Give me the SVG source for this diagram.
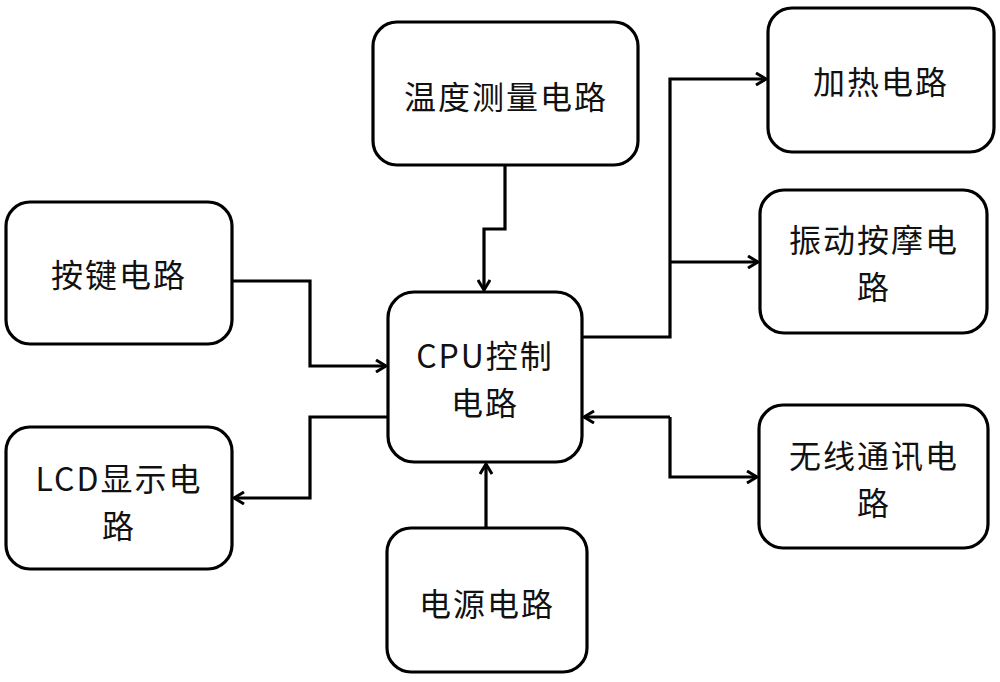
<svg xmlns="http://www.w3.org/2000/svg" width="1000" height="682" viewBox="0 0 1000 682">
<style>
.box{fill:#fff;stroke:#000;stroke-width:3.2}
.t{font-family:"Noto Sans CJK SC","Noto Sans",sans-serif;font-size:32px;letter-spacing:2px;fill:#111;text-anchor:middle;dominant-baseline:central}
.c{fill:none;stroke:#000;stroke-width:3.2;stroke-linejoin:miter}
</style>
<defs>
<marker id="a" viewBox="0 0 14 14" refX="12" refY="7" markerWidth="14" markerHeight="14" markerUnits="userSpaceOnUse" orient="auto">
<path d="M2,1 L12,7 L2,13" fill="none" stroke="#000" stroke-width="3"/>
</marker>
</defs>
<rect width="1000" height="682" fill="#fff"/>
<g id="connectors">
<polyline class="c" points="505,165 505,229 484,229 484,290" marker-end="url(#a)"/>
<polyline class="c" points="486,528 486,464" marker-end="url(#a)"/>
<polyline class="c" points="232,281 310,281 310,366 386,366" marker-end="url(#a)"/>
<polyline class="c" points="388,417 310,417 310,498 234,498" marker-end="url(#a)"/>
<polyline class="c" points="582,337 670,337 670,79 766,79" marker-end="url(#a)"/>
<polyline class="c" points="670,262 758,262" marker-end="url(#a)"/>
<polyline class="c" points="670,417 670,477 757,477" marker-end="url(#a)"/>
<polyline class="c" points="670,417 584,417" marker-end="url(#a)"/>
</g>
<g id="temp">
<rect class="box" x="373" y="22" width="265" height="143" rx="24"/>
<text class="t" x="506" y="95">温度测量电路</text>
</g>
<g id="key">
<rect class="box" x="6" y="202" width="226" height="142" rx="24"/>
<text class="t" x="119" y="273">按键电路</text>
</g>
<g id="lcd">
<rect class="box" x="6" y="427" width="226" height="142" rx="24"/>
<text class="t" x="119" y="477">LCD显示电</text>
<text class="t" x="119" y="524">路</text>
</g>
<g id="cpu">
<rect class="box" x="388" y="292" width="194" height="170" rx="26"/>
<text class="t" x="485" y="354">CPU控制</text>
<text class="t" x="485" y="401">电路</text>
</g>
<g id="power">
<rect class="box" x="387" y="528" width="200" height="144" rx="24"/>
<text class="t" x="487" y="602">电源电路</text>
</g>
<g id="heat">
<rect class="box" x="768" y="8" width="226" height="144" rx="24"/>
<text class="t" x="881" y="80">加热电路</text>
</g>
<g id="vibration">
<rect class="box" x="760" y="190" width="227" height="143" rx="24"/>
<text class="t" x="874" y="238">振动按摩电</text>
<text class="t" x="874" y="285">路</text>
</g>
<g id="wireless">
<rect class="box" x="759" y="405" width="229" height="143" rx="24"/>
<text class="t" x="874" y="454">无线通讯电</text>
<text class="t" x="874" y="501">路</text>
</g>
</svg>
